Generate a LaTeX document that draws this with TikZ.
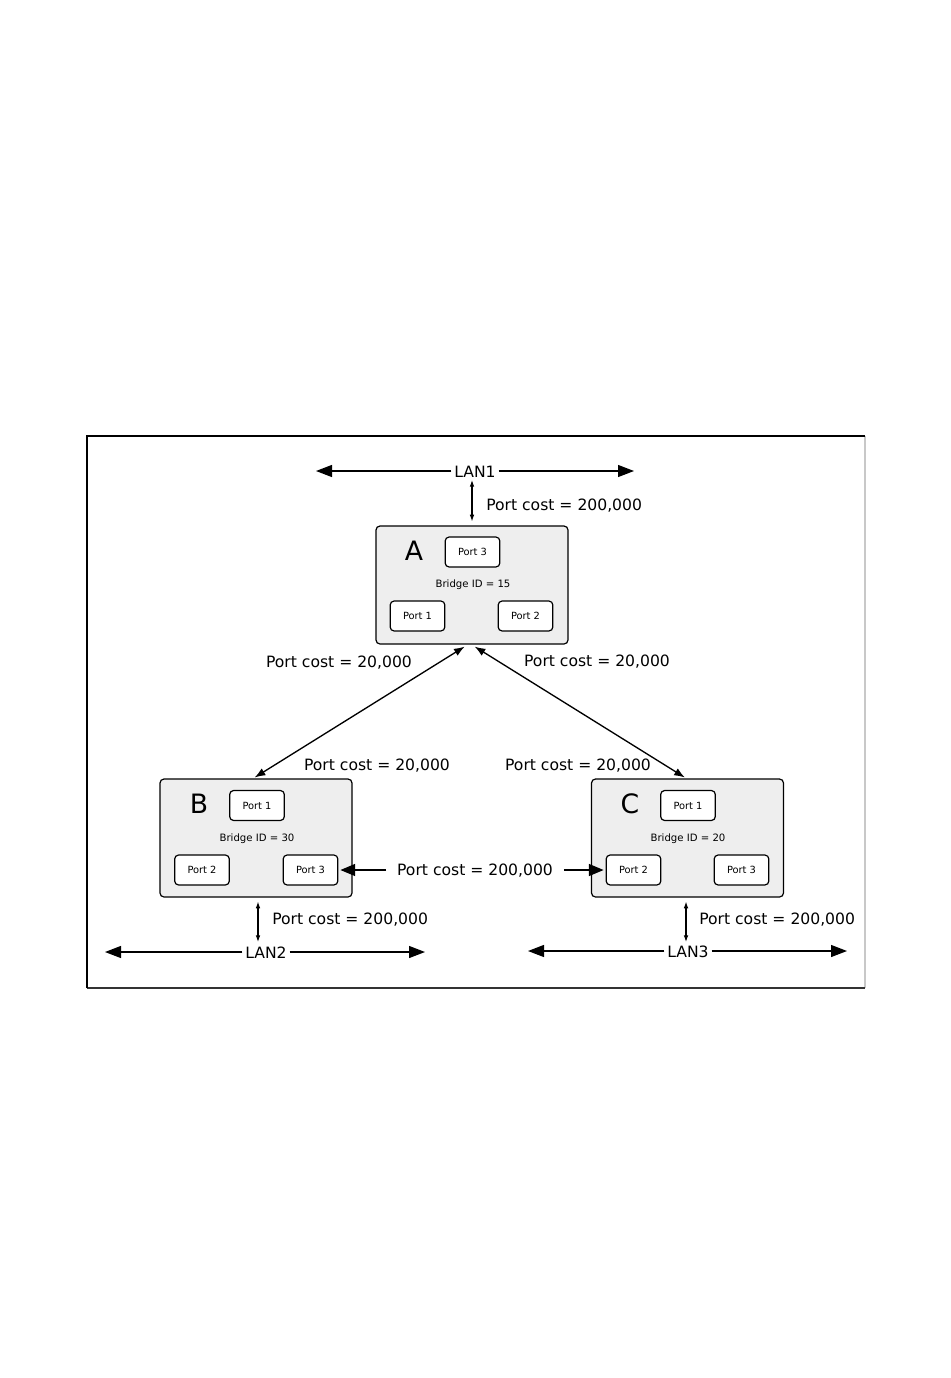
\documentclass[tikz,border=0pt]{standalone}
\usepackage{fontspec}
\setmainfont{DejaVu Sans}
\usetikzlibrary{arrows.meta}
\definecolor{boxgray}{HTML}{EEEEEE}
\definecolor{rightgray}{HTML}{C8C8C8}
\definecolor{botgray}{HTML}{333333}
\begin{document}
\begin{tikzpicture}[x=0.75pt,y=-0.75pt,
  bridge/.style={draw=black,line width=0.9pt,fill=boxgray,rounded corners=3pt,minimum width=144pt,minimum height=88.5pt,inner sep=0pt},
  portbox/.style={draw=black,line width=0.9pt,fill=white,rounded corners=3pt,minimum width=41pt,minimum height=22.5pt,inner sep=0pt,font=\fontsize{7.4pt}{8pt}\selectfont},
  bigletter/.style={font=\fontsize{20pt}{22pt}\selectfont,inner sep=0pt},
  idtext/.style={font=\fontsize{7.6pt}{9pt}\selectfont,inner sep=0pt},
  costtext/.style={font=\fontsize{11.7pt}{13pt}\selectfont,inner sep=0pt},
  lantext/.style={font=\fontsize{11.7pt}{13pt}\selectfont,inner sep=2pt,fill=white},
  lanline/.style={line width=0.9pt,-{Triangle[length=12pt,width=9pt]}},
  linkline/.style={line width=0.9pt,-{Triangle[length=11pt,width=9pt]}},
  smallarr/.style={line width=0.8pt,{Latex[length=5pt,width=3.5pt]}-{Latex[length=5pt,width=3.5pt]}},
  diagarr/.style={line width=1pt,{Latex[length=8pt,width=6pt]}-{Latex[length=8pt,width=6pt]}}
]
\useasboundingbox (0,0) rectangle (950,1378);
% frame
\draw[rightgray,line width=0.8pt] (865,436) -- (865,988);
\draw[botgray,line width=0.8pt] (87,988) -- (865,988);
\draw[black,line width=1.5pt] (87,988) -- (87,436) -- (865,436);

% bridges
\node[bridge] (A) at (472,585) {};
\node[bridge] (B) at (256,838) {};
\node[bridge] (C) at (687.5,838) {};

% bridge A contents
\node[bigletter] (Aname) at (414,550.5) {A};
\node[portbox] (A3) at (472.5,552) {Port 3};
\node[idtext] (Aid) at (473,585) {Bridge ID = 15};
\node[portbox] (A1) at (417.5,616) {Port 1};
\node[portbox] (A2) at (525.5,616) {Port 2};

% bridge B contents
\node[bigletter] (Bname) at (199,803.5) {B};
\node[portbox] (B1) at (257,805.5) {Port 1};
\node[idtext] (Bid) at (257,839) {Bridge ID = 30};
\node[portbox] (B2) at (202,870) {Port 2};
\node[portbox] (B3) at (310.5,870) {Port 3};

% bridge C contents
\node[bigletter] (Cname) at (630,803.5) {C};
\node[portbox] (C1) at (688,805.5) {Port 1};
\node[idtext] (Cid) at (688,839) {Bridge ID = 20};
\node[portbox] (C2) at (633.5,870) {Port 2};
\node[portbox] (C3) at (741.5,870) {Port 3};

% LAN1
\node[lantext] (lan1) at (475,472) {LAN1};
\coordinate (l1w) at (316,471);
\coordinate (l1e) at (634,471);
\draw[lanline] (lan1.west |- l1w) -- (l1w);
\draw[lanline] (lan1.east |- l1e) -- (l1e);
\coordinate (l1v) at (472,480);
\draw[smallarr] (l1v) -- ([yshift=3pt]A.north);
\node[costtext,anchor=west] (cA) at (486,506) {Port cost = 200,000};

% diagonals
\draw[diagarr] ([xshift=-5.5pt,yshift=-1.5pt]A.south) -- ([xshift=-1pt,yshift=0.7pt]B.north);
\draw[diagarr] ([xshift=2pt,yshift=-1.5pt]A.south) -- ([xshift=-2pt,yshift=0.7pt]C.north);
\node[costtext] (cAB) at (339,663) {Port cost = 20,000};
\node[costtext] (cAC) at (597,662) {Port cost = 20,000};
\node[costtext] (cBA) at (377,766) {Port cost = 20,000};
\node[costtext] (cCA) at (578,766) {Port cost = 20,000};

% B3 -- C2
\node[lantext,inner sep=8pt] (bc) at (475,871) {Port cost = 200,000};
\draw[linkline] (bc.west |- B3.east) -- ([xshift=1.5pt]B3.east);
\draw[linkline] (bc.east |- C2.west) -- ([xshift=-1.5pt]C2.west);

% LAN2
\node[lantext] (lan2) at (266,953) {LAN2};
\coordinate (l2w) at (105,952);
\coordinate (l2e) at (425,952);
\draw[lanline] (lan2.west |- l2w) -- (l2w);
\draw[lanline] (lan2.east |- l2e) -- (l2e);
\coordinate (l2v) at (258,942);
\draw[smallarr] (l2v) -- ([yshift=-3pt]l2v |- B.south);
\node[costtext,anchor=west] (cB) at (272,920) {Port cost = 200,000};

% LAN3
\node[lantext] (lan3) at (688,952) {LAN3};
\coordinate (l3w) at (528,951);
\coordinate (l3e) at (847,951);
\draw[lanline] (lan3.west |- l3w) -- (l3w);
\draw[lanline] (lan3.east |- l3e) -- (l3e);
\coordinate (l3v) at (686,942);
\draw[smallarr] (l3v) -- ([yshift=-3pt]l3v |- C.south);
\node[costtext,anchor=west] (cC) at (699,920) {Port cost = 200,000};
\end{tikzpicture}
\end{document}
